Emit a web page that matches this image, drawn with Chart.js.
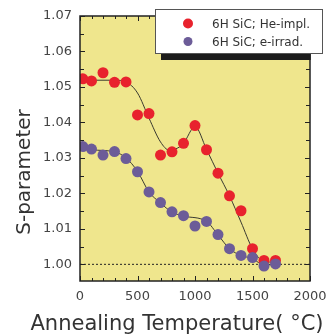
<!DOCTYPE html>
<html>
<head>
<meta charset="utf-8">
<script src="https://cdn.jsdelivr.net/npm/chart.js@4.4.1/dist/chart.umd.min.js"></script>
<style>
  html, body { margin: 0; padding: 0; background: #fff; }
  #wrap { width: 326px; height: 334px; }
</style>
</head>
<body>
<div id="wrap"><canvas id="chart"></canvas></div>
<script>
// measured points (annealing temperature in °C, S-parameter)
const heTemp = [25, 100, 200, 300, 400, 500, 600, 700, 800, 900, 1000, 1100, 1200, 1300, 1400, 1500, 1600, 1700];
const heS = [1.0523, 1.0517, 1.0540, 1.0513, 1.0514, 1.0421, 1.0425, 1.0308, 1.0317, 1.0341, 1.0391, 1.0323, 1.0257, 1.0193, 1.0151, 1.0044, 1.0011, 1.0011];
const eTemp = [25, 100, 200, 300, 400, 500, 600, 700, 800, 900, 1000, 1100, 1200, 1300, 1400, 1500, 1600, 1700];
const eS = [1.0332, 1.0325, 1.0308, 1.0318, 1.0298, 1.0261, 1.0204, 1.0174, 1.0148, 1.0137, 1.0108, 1.0121, 1.0084, 1.0044, 1.0025, 1.0019, 0.9995, 1.0001];

// guide curves
const heFitTemp = [25, 100, 200, 300, 400, 500, 600, 700, 775, 850, 900, 1000, 1100, 1200, 1300, 1400, 1500, 1600, 1700];
const heFitS = [1.0519, 1.0519, 1.0519, 1.0519, 1.0514, 1.0483, 1.0412, 1.0345, 1.0322, 1.0328, 1.0341, 1.0388, 1.0324, 1.0257, 1.0193, 1.0119, 1.0044, 1.0008, 1.0006];
const eFitTemp = [25, 100, 300, 400, 500, 600, 700, 800, 900, 1100, 1200, 1300, 1400, 1500, 1600, 1700];
const eFitS = [1.0328, 1.0323, 1.0317, 1.0300, 1.0262, 1.0204, 1.0173, 1.0147, 1.0136, 1.0121, 1.0083, 1.0044, 1.0025, 1.0016, 0.9998, 1.0000];

const refTemp = [0, 2000];
const refS = [1.00, 1.00];

const legendLabels = ['6H SiC; He-impl.', '6H SiC; e-irrad.'];
const xTitle = 'Annealing Temperature( °C)';
const yTitle = 'S-parameter';

const RED = '#e8222d';
const PURPLE = '#6c5c98';
const FONT = '"DejaVu Sans", sans-serif';

const pts = (xs, ys) => xs.map((x, i) => ({ x: x, y: ys[i] }));

// khaki plot background
const plotBg = {
  id: 'plotBg',
  beforeDraw(chart) {
    const { ctx, chartArea: a } = chart;
    ctx.save();
    ctx.fillStyle = '#efe68d';
    ctx.fillRect(a.left, a.top, a.right - a.left, a.bottom - a.top);
    ctx.restore();
  }
};

// frame with inward ticks on all four sides
const frame = {
  id: 'frame',
  afterDatasetsDraw(chart) {
    const { ctx, chartArea: a, scales } = chart;
    const xs = scales.x, ys = scales.y;
    ctx.save();
    ctx.strokeStyle = '#222';
    ctx.lineWidth = 1;
    ctx.beginPath();
    for (let t = 0; t <= 2000; t += 100) {
      const px = Math.round(xs.getPixelForValue(t)) + 0.5;
      const len = t % 500 === 0 ? 5 : 3;
      ctx.moveTo(px, a.bottom); ctx.lineTo(px, a.bottom - len);
      ctx.moveTo(px, a.top); ctx.lineTo(px, a.top + len);
    }
    for (let k = 0; k <= 14; k++) {
      const v = 1.00 + k * 0.005;
      const py = Math.round(ys.getPixelForValue(v)) + 0.5;
      const len = k % 2 === 0 ? 5 : 4;
      ctx.moveTo(a.left, py); ctx.lineTo(a.left + len, py);
      ctx.moveTo(a.right, py); ctx.lineTo(a.right - len, py);
    }
    ctx.stroke();
    ctx.lineWidth = 1.5;
    ctx.strokeRect(a.left, a.top, a.right - a.left, a.bottom - a.top);
    ctx.restore();
  }
};

// axis titles and boxed legend with a drop shadow
const extras = {
  id: 'extras',
  afterDraw(chart) {
    const { ctx, chartArea: a } = chart;
    ctx.save();
    ctx.fillStyle = '#333';
    ctx.font = '21px ' + FONT;
    ctx.textAlign = 'center';
    ctx.textBaseline = 'alphabetic';
    ctx.fillText(xTitle, 177, 330);

    ctx.save();
    ctx.translate(30, 172);
    ctx.rotate(-Math.PI / 2);
    ctx.font = '20px ' + FONT;
    ctx.fillText(yTitle, 0, 0);
    ctx.restore();

    // legend shadow, only visible over the plot
    ctx.save();
    ctx.beginPath();
    ctx.rect(a.left, a.top, a.right - a.left + 0.75, a.bottom - a.top);
    ctx.clip();
    ctx.fillStyle = '#1c1c1c';
    ctx.fillRect(161, 15, 170, 45);
    ctx.restore();

    ctx.fillStyle = '#fff';
    ctx.fillRect(155, 9, 168, 45);
    ctx.strokeStyle = '#555';
    ctx.lineWidth = 1;
    ctx.strokeRect(155.5, 9.5, 167, 44);

    const colors = [RED, PURPLE];
    const rows = [23.5, 41.5];
    ctx.font = '12px ' + FONT;
    ctx.textAlign = 'left';
    ctx.textBaseline = 'middle';
    legendLabels.forEach((lab, i) => {
      ctx.fillStyle = colors[i];
      ctx.beginPath();
      ctx.arc(188, rows[i], i === 0 ? 5 : 4.5, 0, Math.PI * 2);
      ctx.fill();
      ctx.fillStyle = '#333';
      ctx.fillText(lab, 212, rows[i] + 1.5);
    });
    ctx.restore();
  }
};

const ctx = document.getElementById('chart').getContext('2d');
new Chart(ctx, {
  type: 'scatter',
  data: {
    datasets: [
      {
        label: 'ref',
        data: pts(refTemp, refS),
        showLine: true,
        borderColor: '#222',
        borderWidth: 1,
        borderDash: [2, 2],
        pointRadius: 0,
        order: 5
      },
      {
        label: 'He fit',
        data: pts(heFitTemp, heFitS),
        showLine: true,
        borderColor: '#3a3a30',
        borderWidth: 1,
        cubicInterpolationMode: 'monotone',
        pointRadius: 0,
        order: 4
      },
      {
        label: 'e fit',
        data: pts(eFitTemp, eFitS),
        showLine: true,
        borderColor: '#3a3a30',
        borderWidth: 1,
        cubicInterpolationMode: 'monotone',
        pointRadius: 0,
        order: 3
      },
      {
        label: legendLabels[0],
        data: pts(heTemp, heS),
        backgroundColor: RED,
        borderWidth: 0,
        pointRadius: 5.5,
        order: 2
      },
      {
        label: legendLabels[1],
        data: pts(eTemp, eS),
        backgroundColor: PURPLE,
        borderWidth: 0,
        pointRadius: 5.5,
        order: 1
      }
    ]
  },
  options: {
    responsive: true,
    maintainAspectRatio: false,
    animation: false,
    devicePixelRatio: 1,
    layout: { padding: { top: 16, right: 16, left: 0, bottom: 0 } },
    plugins: {
      legend: { display: false },
      tooltip: { enabled: false }
    },
    scales: {
      x: {
        type: 'linear',
        min: 0,
        max: 2000,
        grid: { display: false, drawTicks: false },
        border: { display: false },
        ticks: {
          stepSize: 500,
          padding: 8,
          color: '#444',
          font: { family: FONT, size: 13 },
          maxRotation: 0,
          callback: (v) => String(v)
        },
        afterFit(scale) {
          scale.height = 53;
          scale.paddingLeft = 0;
          scale.paddingRight = 0;
        }
      },
      y: {
        min: 0.9953,
        max: 1.07,
        grid: { display: false, drawTicks: false },
        border: { display: false },
        ticks: {
          stepSize: 0.01,
          includeBounds: false,
          padding: 8,
          color: '#444',
          font: { family: FONT, size: 13 },
          callback: (v) => v.toFixed(2)
        },
        afterFit(scale) {
          scale.width = 80;
          scale.paddingTop = 0;
          scale.paddingBottom = 0;
        }
      }
    }
  },
  plugins: [plotBg, frame, extras]
});
</script>
</body>
</html>
